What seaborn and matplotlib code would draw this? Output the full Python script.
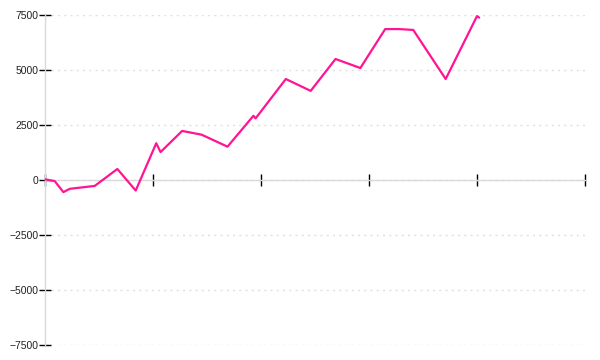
import matplotlib
matplotlib.use("Agg")
import matplotlib.pyplot as plt
import seaborn as sns
import pandas as pd

# Data
x_vals = [0, 0.9, 1.7, 2.3, 4.6, 6.7, 8.4, 10.3, 10.7, 12.7, 14.5, 16.9,
          19.3, 19.5, 22.3, 24.6, 26.9, 29.2, 31.5, 32.8, 34.1, 37.1, 40.0, 40.2]
y_vals = [30, -50, -550, -400, -270, 500, -480, 1670, 1270, 2230, 2060, 1515,
          2920, 2800, 4590, 4050, 5500, 5090, 6860, 6860, 6820, 4590, 7450, 7380]
y_ticks = [-7500, -5000, -2500, 0, 2500, 5000, 7500]
x_ticks = [0, 10, 20, 30, 40, 50]

df = pd.DataFrame({"x": x_vals, "y": y_vals})

sns.set_style("white")
plt.rcParams["font.family"] = ["Liberation Sans", "DejaVu Sans"]

fig = plt.figure(figsize=(6, 3.6), dpi=100)
ax = fig.add_axes([45 / 600, 15 / 360, 540 / 600, 330 / 360])

sns.lineplot(data=df, x="x", y="y", ax=ax, color="#ff1493", linewidth=1.6,
             sort=False, estimator=None, zorder=5)

ax.set_xlim(0, 50)
ax.set_ylim(-7500, 7500)
ax.set_xticks(x_ticks)
ax.set_xticklabels([])
ax.set_yticks(y_ticks)
ax.set_yticklabels([str(v).replace("-", "\u2212") for v in y_ticks])
ax.set_xlabel("")
ax.set_ylabel("")

for s in ["top", "right"]:
    ax.spines[s].set_visible(False)
ax.spines["left"].set_color("#d9d9d9")
ax.spines["left"].set_linewidth(1)
ax.spines["bottom"].set_position(("data", 0))
ax.spines["bottom"].set_color("#d9d9d9")
ax.spines["bottom"].set_linewidth(1)

ax.tick_params(axis="y", left=True, direction="inout", length=9, width=1,
               color="black", labelsize=7.5, labelcolor="#222222", pad=0)
ax.tick_params(axis="x", bottom=True, direction="inout", length=9, width=1,
               color="black")

ax.yaxis.grid(True, linestyle=(0, (1.5, 3)), color="#e0e0e0", linewidth=1)
ax.xaxis.grid(False)
ax.set_axisbelow(True)

fig.savefig("out.png", dpi=100)
